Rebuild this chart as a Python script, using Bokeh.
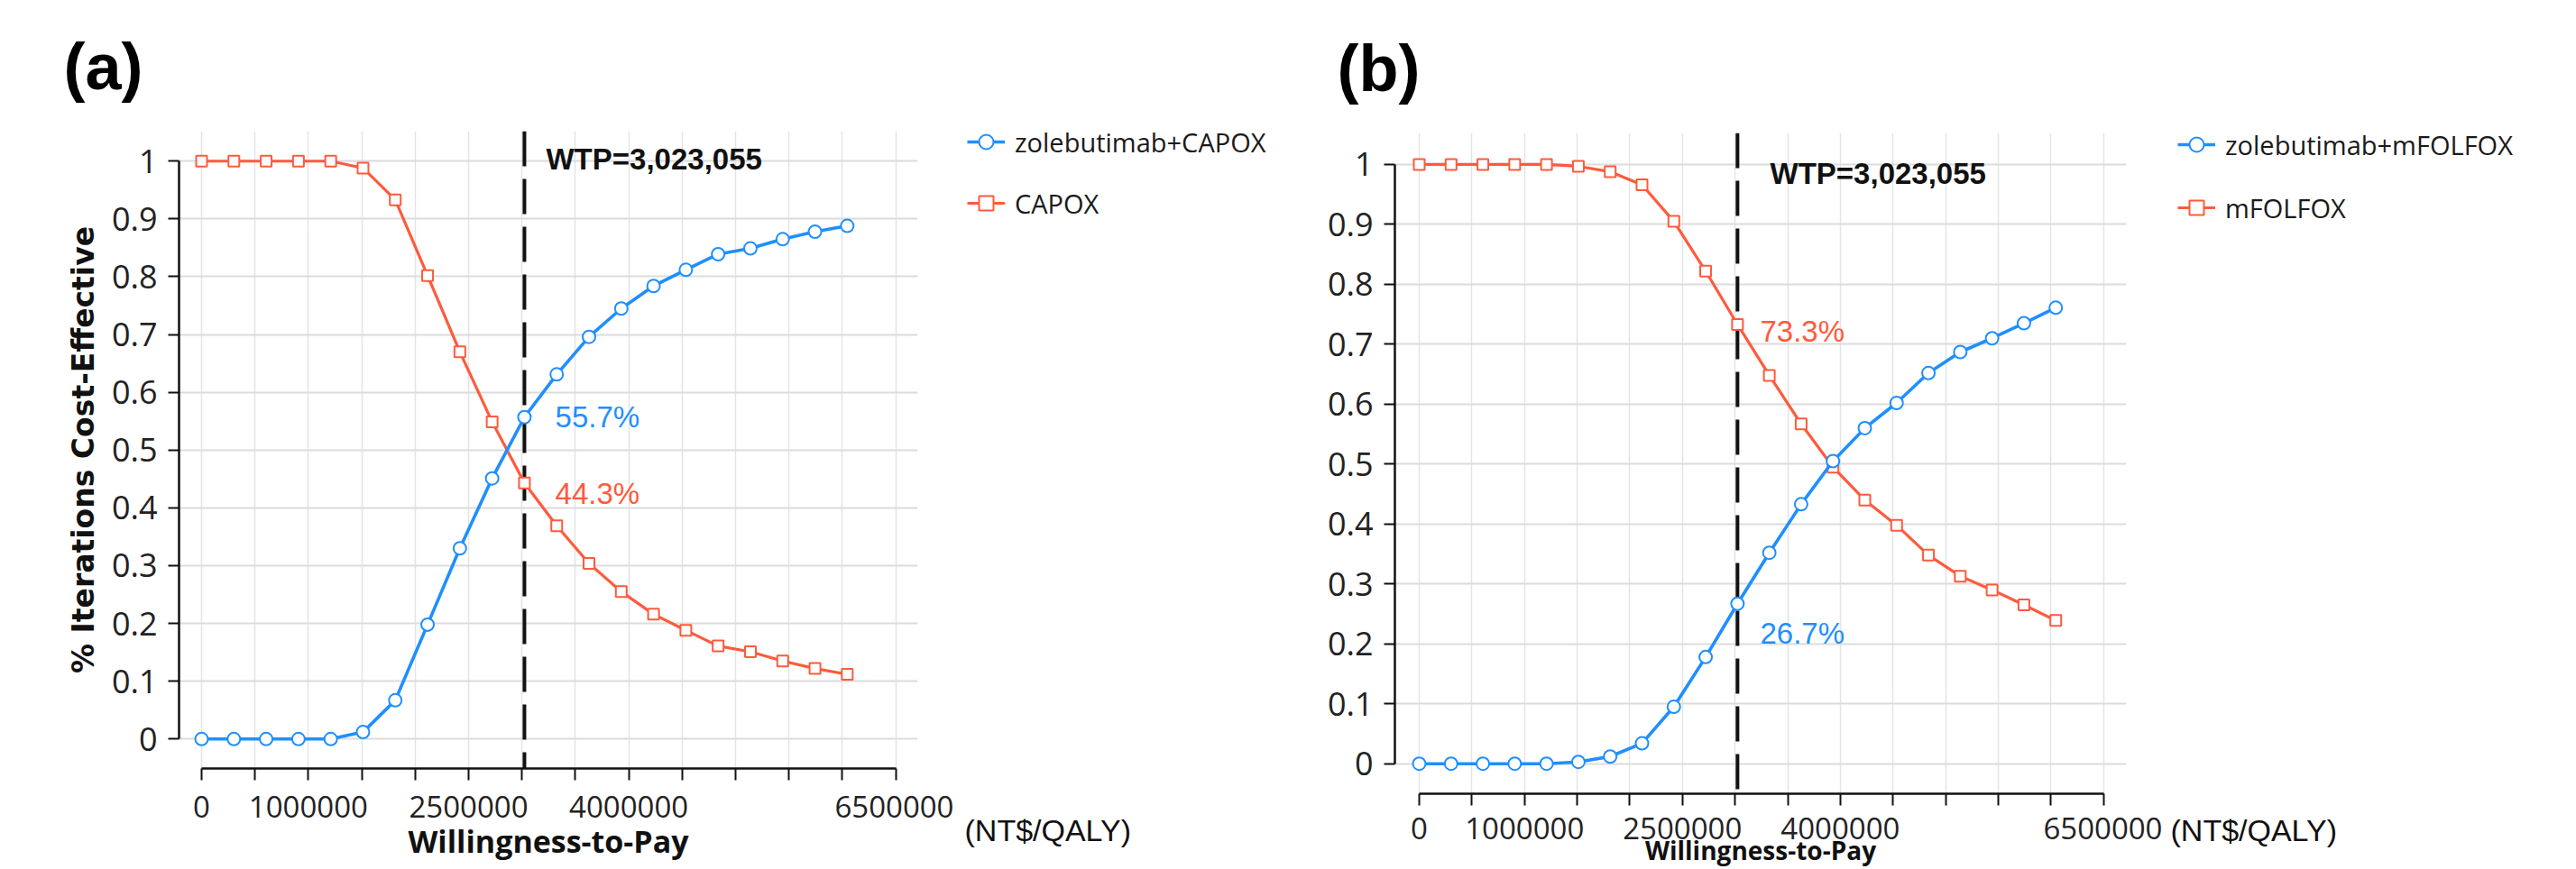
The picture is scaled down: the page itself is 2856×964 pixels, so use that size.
from bokeh.plotting import figure
from bokeh.models import Range1d, FixedTicker, Span, Label, Legend, LegendItem
from bokeh.layouts import row
from bokeh.embed import file_html
from bokeh.resources import INLINE

# ---------------- data ----------------
wtp_threshold = 3023055
wtp_values = [0, 302306, 604611, 906917, 1209222, 1511528, 1813833, 2116139,
              2418444, 2720750, 3023055, 3325361, 3627666, 3929972, 4232277,
              4534583, 4836888, 5139194, 5441499, 5743805, 6046110]

a_combo = [0, 0, 0, 0, 0, 0.012, 0.067, 0.198, 0.330, 0.451, 0.557, 0.631,
           0.696, 0.745, 0.784, 0.812, 0.839, 0.849, 0.865, 0.878, 0.888]
a_capox = [1, 1, 1, 1, 1, 0.988, 0.933, 0.802, 0.670, 0.549, 0.443, 0.369,
           0.304, 0.255, 0.216, 0.188, 0.161, 0.151, 0.135, 0.122, 0.112]

b_combo = [0, 0, 0, 0, 0, 0.003, 0.012, 0.034, 0.095, 0.178, 0.267, 0.352,
           0.433, 0.505, 0.560, 0.602, 0.652, 0.687, 0.710, 0.735, 0.761]
b_mfolfox = [1, 1, 1, 1, 1, 0.997, 0.988, 0.966, 0.905, 0.822, 0.733, 0.648,
             0.567, 0.495, 0.440, 0.398, 0.348, 0.313, 0.290, 0.265, 0.239]

x_ticks = [0, 500000, 1000000, 1500000, 2000000, 2500000, 3000000, 3500000,
           4000000, 4500000, 5000000, 5500000, 6000000, 6500000]
x_tick_labels = {0: "0", 500000: "", 1000000: "1000000", 1500000: "",
                 2000000: "", 2500000: "2500000", 3000000: "", 3500000: "",
                 4000000: "4000000", 4500000: "", 5000000: "", 5500000: "",
                 6000000: "", 6500000: "6500000"}
y_ticks = [0, 0.1, 0.2, 0.3, 0.4, 0.5, 0.6, 0.7, 0.8, 0.9, 1.0]
y_tick_labels = {0: "0", 0.1: "0.1", 0.2: "0.2", 0.3: "0.3", 0.4: "0.4",
                 0.5: "0.5", 0.6: "0.6", 0.7: "0.7", 0.8: "0.8", 0.9: "0.9",
                 1: "1"}

BLUE = "#1f8fff"
RED = "#ff5a3d"
TICK_FONT = "Open Sans"
H = 964


def no_align(p):
    if "frame_align" in p.properties():
        p.frame_align = False


def add_series(p, combo, comp):
    rl = p.line(wtp_values, comp, line_color=RED, line_width=3.2)
    rs = p.scatter(wtp_values, comp, marker="square", size=12,
                   fill_color="white", line_color=RED, line_width=2)
    bl = p.line(wtp_values, combo, line_color=BLUE, line_width=3.6)
    bs = p.scatter(wtp_values, combo, marker="circle", size=14,
                   fill_color="white", line_color=BLUE, line_width=2)
    return bl, bs, rl, rs


def make_main(combo, comp, tag, tag_offset, xr, yr, frame_w, border_l,
              border_t, border_b, y_label, wtp_pos, pct_combo_pos,
              pct_comp_pos, combo_pct, comp_pct, tick_standoff,
              label_standoff, xlabel_size):
    p = figure(x_range=Range1d(*xr), y_range=Range1d(*yr),
               frame_width=frame_w, height=H,
               min_border_left=border_l, min_border_right=40,
               min_border_top=border_t, min_border_bottom=border_b,
               output_backend="svg", toolbar_location=None, tools="")
    no_align(p)
    p.outline_line_color = None

    # panel tag as title
    p.title.text = tag
    p.title.align = "left"
    p.title.vertical_align = "middle"
    p.title.offset = tag_offset
    p.title.standoff = 62
    p.title.text_font = "Liberation Sans"
    p.title.text_font_style = "bold"
    p.title.text_font_size = "72px"
    p.title.text_color = "#000000"

    # grid
    p.xgrid.grid_line_color = "#e4e4e4"
    p.xgrid.grid_line_width = 1.5
    p.ygrid.grid_line_color = "#dcdcdc"
    p.ygrid.grid_line_width = 2

    # axes
    xa = p.xaxis[0]
    xa.ticker = FixedTicker(ticks=x_ticks)
    xa.major_label_overrides = x_tick_labels
    xa.bounds = (0, 6500000)
    xa.axis_line_color = "#111111"
    xa.axis_line_width = 2.5
    xa.major_tick_line_color = "#111111"
    xa.major_tick_line_width = 2
    xa.major_tick_out = 13
    xa.major_tick_in = 0
    xa.minor_tick_line_color = None
    xa.major_label_text_font = TICK_FONT
    xa.major_label_text_font_size = "33px"
    xa.major_label_text_color = "#222222"
    xa.major_label_standoff = tick_standoff
    xa.axis_label = "Willingness-to-Pay"
    xa.axis_label_text_font = "Open Sans"
    xa.axis_label_text_font_style = "bold"
    xa.axis_label_text_font_size = xlabel_size
    xa.axis_label_text_color = "#111111"
    xa.axis_label_standoff = label_standoff

    ya = p.yaxis[0]
    ya.ticker = FixedTicker(ticks=y_ticks)
    ya.major_label_overrides = y_tick_labels
    ya.bounds = (0, 1)
    ya.axis_line_color = "#111111"
    ya.axis_line_width = 2.5
    ya.major_tick_line_color = "#111111"
    ya.major_tick_line_width = 2
    ya.major_tick_out = 12
    ya.major_tick_in = 0
    ya.minor_tick_line_color = None
    ya.major_label_text_font = TICK_FONT
    ya.major_label_text_font_size = "36px"
    ya.major_label_text_color = "#222222"
    ya.major_label_standoff = 12
    if y_label:
        ya.axis_label = y_label
        ya.axis_label_text_font = "DejaVu Sans"
        ya.axis_label_text_font_style = "bold"
        ya.axis_label_text_font_size = "33px"
        ya.axis_label_text_color = "#111111"
        ya.axis_label_standoff = 9

    # WTP threshold line
    p.add_layout(Span(location=wtp_threshold, dimension="height",
                      line_color="#111111", line_width=4,
                      line_dash="39 14", level="underlay"))

    add_series(p, combo, comp)

    p.add_layout(Label(x=wtp_pos[0], y=wtp_pos[1], text="WTP=3,023,055",
                       text_font="Liberation Sans", text_font_style="bold",
                       text_font_size="33px", text_color="#111111",
                       text_baseline="alphabetic"))
    p.add_layout(Label(x=pct_combo_pos[0], y=pct_combo_pos[1], text=combo_pct,
                       text_font="Liberation Sans", text_font_size="33px",
                       text_color=BLUE, text_baseline="alphabetic"))
    p.add_layout(Label(x=pct_comp_pos[0], y=pct_comp_pos[1], text=comp_pct,
                       text_font="Liberation Sans", text_font_size="33px",
                       text_color=RED, text_baseline="alphabetic"))
    return p


def make_side(width, combo, comp, combo_name, comp_name, legend_loc,
              legend_spacing, unit_pos):
    # legend + unit text area to the right of a panel
    s = figure(width=width, height=H, min_border=0, title=None,
               x_range=Range1d(-1000, -1000 + width), y_range=Range1d(0, H),
               x_axis_location=None, y_axis_location=None,
               output_backend="svg", toolbar_location=None, tools="")
    no_align(s)
    s.outline_line_color = None
    for g in s.grid:
        g.visible = False
    bl, bs, rl, rs = add_series(s, combo, comp)
    legend = Legend(items=[LegendItem(label=combo_name, renderers=[bl, bs]),
                           LegendItem(label=comp_name, renderers=[rl, rs])],
                    location=legend_loc, orientation="vertical",
                    padding=0, margin=0, spacing=legend_spacing,
                    glyph_width=42, glyph_height=40, label_height=40,
                    label_standoff=11, label_text_font="Open Sans",
                    label_text_font_size="29px", label_text_color="#1a1a1a",
                    border_line_color=None, background_fill_alpha=0)
    s.add_layout(legend)
    s.add_layout(Label(x=-1000 + unit_pos[0], y=unit_pos[1], text="(NT$/QALY)",
                       text_font="Liberation Sans", text_font_size="34px",
                       text_color="#111111", text_baseline="alphabetic"))
    return s


pa = make_main(a_combo, a_capox, "(a)", -128,
               xr=(-211149, 6706081), yr=(-0.0510, 1.0519),
               frame_w=819, border_l=198, border_t=145, border_b=112,
               y_label="% Iterations Cost-Effective",
               wtp_pos=(3226000, 1.003),
               pct_combo_pos=(3311000, 0.558), pct_comp_pos=(3311000, 0.425),
               combo_pct="55.7%", comp_pct="44.3%",
               tick_standoff=17, label_standoff=0, xlabel_size="34px")
sa = make_side(371, a_combo, a_capox, "zolebutimab+CAPOX", "CAPOX",
               legend_loc=(15, 719), legend_spacing=28, unit_pos=(12, 44))

pb = make_main(b_combo, b_mfolfox, "(b)", -64,
               xr=(-231323, 6716929), yr=(-0.0501, 1.0526),
               frame_w=811, border_l=118, border_t=147, border_b=84,
               y_label=None,
               wtp_pos=(3333000, 0.985),
               pct_combo_pos=(3238000, 0.218), pct_comp_pos=(3238000, 0.721),
               combo_pct="26.7%", comp_pct="73.3%",
               tick_standoff=13, label_standoff=-10, xlabel_size="28px")
sb = make_side(459, b_combo, b_mfolfox, "zolebutimab+mFOLFOX", "mFOLFOX",
               legend_loc=(17, 714), legend_spacing=30, unit_pos=(9, 44))

layout = row(pa, sa, pb, sb)
open("out.html", "w").write(file_html(layout, INLINE))
